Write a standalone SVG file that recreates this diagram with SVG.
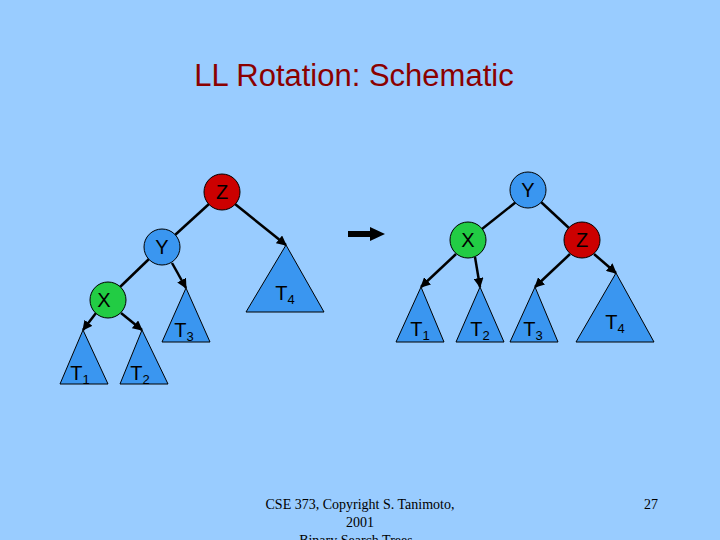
<svg xmlns="http://www.w3.org/2000/svg" width="720" height="540" viewBox="0 0 720 540">
<defs>
<marker id="ah" viewBox="0 0 10 10" refX="9" refY="5" markerWidth="4" markerHeight="4" orient="auto"><path d="M0,0L10,5L0,10z" fill="#000"/></marker>
<style>
.c{stroke:#000;stroke-width:1}
.t{fill:#3a96f0;stroke:#000;stroke-width:1}
.l{font-family:"Liberation Sans",Arial,sans-serif;font-size:20px;fill:#000;text-anchor:middle}
.s{font-size:13px}
.e{stroke:#000;stroke-width:2.5;fill:none;marker-end:url(#ah)}
.n{stroke:#000;stroke-width:2.5;fill:none}
</style>
</defs>
<rect width="720" height="540" fill="#99ccff"/>
<text x="354" y="86" font-family="Liberation Sans,Arial,sans-serif" font-size="31" fill="#8b0000" text-anchor="middle">LL Rotation: Schematic</text>
<g id="edges">
<line class="n" x1="209" y1="204" x2="175" y2="235"/>
<line class="e" x1="235" y1="204" x2="286" y2="245"/>
<line class="n" x1="149" y1="259" x2="120" y2="287"/>
<line class="e" x1="172" y1="263" x2="186" y2="288"/>
<line class="e" x1="96" y1="313" x2="83" y2="330"/>
<line class="e" x1="121" y1="313" x2="142" y2="330"/>
<line class="n" x1="516" y1="202" x2="482" y2="229"/>
<line class="n" x1="541" y1="202" x2="570" y2="229"/>
<line class="e" x1="456" y1="254" x2="421" y2="287"/>
<line class="e" x1="475" y1="257" x2="480" y2="287"/>
<line class="e" x1="570" y1="254" x2="535" y2="287"/>
<line class="e" x1="594" y1="254" x2="616" y2="273"/>
<path d="M348,234H372" stroke="#000" stroke-width="6"/><path d="M370,227L385,234L370,241z" fill="#000"/>
</g>
<g id="nZ1"><circle cx="222" cy="192" r="18" fill="#cc0000" class="c"/><text class="l" x="222" y="199">Z</text></g>
<g id="nY1"><circle cx="162" cy="247" r="18" fill="#3a96f0" class="c"/><text class="l" x="162" y="254">Y</text></g>
<g id="nX1"><circle cx="108" cy="300" r="18" fill="#22cc44" class="c"/><text class="l" x="104" y="307">X</text></g>
<g id="tT1a"><path class="t" d="M83,330L60,384H108z"/><text class="l" x="80" y="380">T<tspan class="s" dy="4">1</tspan></text></g>
<g id="tT2a"><path class="t" d="M142,330L120,384H168z"/><text class="l" x="140" y="380">T<tspan class="s" dy="4">2</tspan></text></g>
<g id="tT3a"><path class="t" d="M186,288L162,342H210z"/><text class="l" x="184" y="337">T<tspan class="s" dy="4">3</tspan></text></g>
<g id="tT4a"><path class="t" d="M286,245L246,312H324z"/><text class="l" x="285" y="300">T<tspan class="s" dy="4">4</tspan></text></g>
<g id="nY2"><circle cx="528" cy="190" r="18" fill="#3a96f0" class="c"/><text class="l" x="528" y="197">Y</text></g>
<g id="nX2"><circle cx="468" cy="240" r="18" fill="#22cc44" class="c"/><text class="l" x="468" y="247">X</text></g>
<g id="nZ2"><circle cx="582" cy="240" r="18" fill="#cc0000" class="c"/><text class="l" x="582" y="247">Z</text></g>
<g id="tT1b"><path class="t" d="M421,287L396,342H444z"/><text class="l" x="420" y="336">T<tspan class="s" dy="4">1</tspan></text></g>
<g id="tT2b"><path class="t" d="M480,287L456,342H504z"/><text class="l" x="480" y="336">T<tspan class="s" dy="4">2</tspan></text></g>
<g id="tT3b"><path class="t" d="M535,287L510,342H558z"/><text class="l" x="533" y="336">T<tspan class="s" dy="4">3</tspan></text></g>
<g id="tT4b"><path class="t" d="M616,273L576,342H654z"/><text class="l" x="615" y="329">T<tspan class="s" dy="4">4</tspan></text></g>
<g font-family="Liberation Serif,Times New Roman,serif" font-size="14" fill="#000" text-anchor="middle">
<text x="360" y="509">CSE 373,  Copyright S. Tanimoto,</text>
<text x="360" y="527">2001</text>
<text x="360" y="545">Binary Search Trees -</text>
<text x="651" y="509">27</text>
</g>
</svg>
